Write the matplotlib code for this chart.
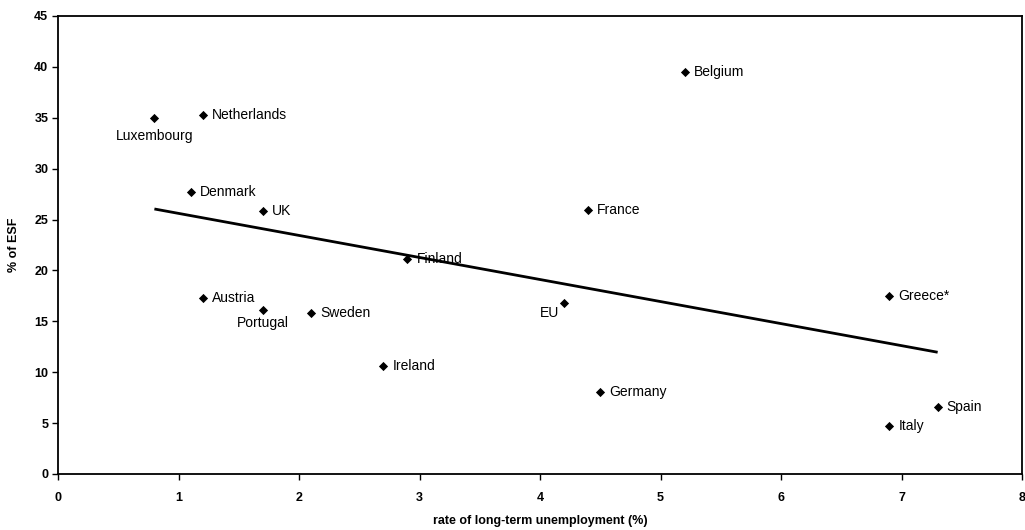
import numpy as np
import matplotlib
matplotlib.use("Agg")
import matplotlib.pyplot as plt

plt.rcParams['font.family'] = ['Liberation Sans', 'DejaVu Sans']

countries = ["Luxembourg", "Netherlands", "Denmark", "UK", "Finland", "Austria",
             "Portugal", "Sweden", "Ireland", "France", "Germany", "Belgium",
             "Greece*", "Spain", "Italy", "EU"]
ltu_rate = [0.8, 1.2, 1.1, 1.7, 2.9, 1.2, 1.7, 2.1, 2.7, 4.4, 4.5, 5.2, 6.9, 7.3, 6.9, 4.2]
esf_share = [35.0, 35.3, 27.7, 25.8, 21.1, 17.3, 16.1, 15.8, 10.6, 25.9, 8.1, 39.5, 17.5, 6.6, 4.7, 16.8]

x_ticks = [0, 1, 2, 3, 4, 5, 6, 7, 8]
y_ticks = [0, 5, 10, 15, 20, 25, 30, 35, 40, 45]

# label placement: (dx px, dy px, ha, va)
label_pos = {
    "Luxembourg": (0, -11, "center", "top"),
    "Portugal": (0, -6, "center", "top"),
    "EU": (-5, -3, "right", "top"),
}

fig = plt.figure(figsize=(10.25, 5.3), dpi=100)
ax = fig.add_axes([58 / 1025, 1 - 474 / 530, (1022 - 58) / 1025, (474 - 16) / 530])

x = np.array(ltu_rate)
y = np.array(esf_share)

# OLS trend across member states (EU average excluded)
mask = np.array([c != "EU" for c in countries])
slope, intercept = np.polyfit(x[mask], y[mask], 1)
xl = np.array([x[mask].min(), x[mask].max()])
ax.plot(xl, slope * xl + intercept, color="black", lw=2.0, solid_capstyle="butt", zorder=2)

ax.scatter(x, y, marker="D", s=22, color="black", zorder=3, linewidths=0)

for c, xi, yi in zip(countries, ltu_rate, esf_share):
    dx, dy, ha, va = label_pos.get(c, (9, 0, "left", "center"))
    ax.annotate(c, (xi, yi), xytext=(dx * 0.72, dy * 0.72), textcoords="offset points",
                ha=ha, va=va, fontsize=10, color="black", zorder=4)

ax.set_xlim(0, 8)
ax.set_ylim(0, 45)
ax.set_xticks(x_ticks)
ax.set_yticks(y_ticks)
ax.set_xticklabels([str(t) for t in x_ticks], fontsize=9, fontweight="bold")
ax.set_yticklabels([str(t) for t in y_ticks], fontsize=9, fontweight="bold")
ax.tick_params(direction="out", length=4, width=1, pad=3)
ax.tick_params(axis="x", pad=9)
for s in ax.spines.values():
    s.set_linewidth(1.3)
    s.set_color("black")

ax.set_xlabel("rate of long-term unemployment (%)", fontsize=9, fontweight="bold", labelpad=8)
ax.set_ylabel("% of ESF", fontsize=9, fontweight="bold", labelpad=10)

fig.savefig("out.png", dpi=100, facecolor="white")
